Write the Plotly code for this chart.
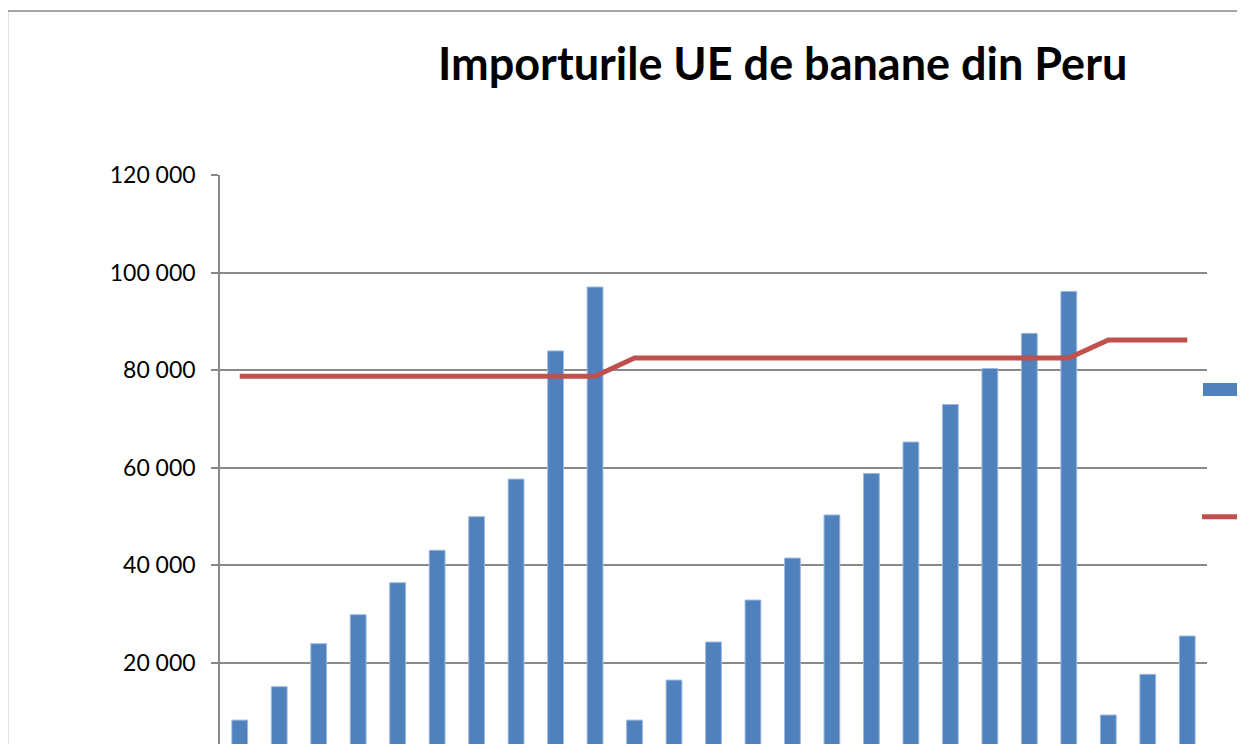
import plotly.graph_objects as go

# Data (x labels are cut off in the reference)
periods = [f"P{i}" for i in range(1, 26)]
imports = [8300, 15150, 23950, 29900, 36450, 43100, 49980, 57680, 83950, 97050,
           8300, 16500, 24300, 32900, 41500, 50330, 58850, 65280, 72980, 80350,
           87550, 96150, 9340, 17680, 25530]
quota = [78750] * 10 + [82500] * 12 + [86200] * 3

y_ticks = [20000, 40000, 60000, 80000, 100000, 120000]
y_tick_text = ["20 000", "40 000", "60 000", "80 000", "100 000", "120 000"]

OFF = 8  # default page body margin
W, H = 1245 - OFF, 744 - OFF
L, R, T = 220 - OFF, 1207 - OFF, 175 - OFF
PW, PH = R - L, H - T
Y_PER_PX = 20000 / 97.6
Y_MIN = 120000 - PH * Y_PER_PX


def px(x):
    return (x - OFF - L) / PW


def py(y):
    return (H - (y - OFF)) / PH


fig = go.Figure()
fig.add_trace(go.Bar(
    x=periods, y=imports, name="Importuri",
    marker=dict(color="#4F81BD", line=dict(color="#9DB9DE", width=1)),
    showlegend=False,
))
fig.add_trace(go.Scatter(
    x=periods, y=quota, name="Media", mode="lines",
    line=dict(color="#C0504D", width=5),
    showlegend=False,
))

shapes = [
    # outer chart-area border
    dict(type="rect", xref="paper", yref="paper",
         x0=px(7.5), x1=px(1262), y0=py(760), y1=py(11),
         line=dict(color="#898989", width=1.5), fillcolor="rgba(0,0,0,0)"),
    # legend symbols (text cut off in reference)
    dict(type="rect", xref="paper", yref="paper",
         x0=px(1203), x1=px(1260), y0=py(396), y1=py(383),
         line=dict(width=0), fillcolor="#4F81BD"),
    dict(type="line", xref="paper", yref="paper",
         x0=px(1202), x1=px(1260), y0=py(516.7), y1=py(516.7),
         line=dict(color="#C0504D", width=5)),
]

fig.update_layout(
    width=W, height=H,
    margin=dict(l=L, r=W - R, t=T, b=0),
    paper_bgcolor="white", plot_bgcolor="white",
    bargap=0.6,
    shapes=shapes,
    font=dict(family="Lato", color="black"),
    annotations=[dict(
        text="<b>Importurile UE de banane din Peru</b>",
        xref="paper", yref="paper", x=px(782), y=py(63),
        xanchor="center", yanchor="middle", showarrow=False,
        font=dict(family="Lato", size=45, color="black"),
    )],
)
fig.update_xaxes(
    range=[-0.5, 24.5], showticklabels=False, showgrid=False,
    showline=False, ticks="", zeroline=False,
)
fig.update_yaxes(
    range=[Y_MIN, 120000], tickvals=y_ticks, ticktext=y_tick_text,
    showgrid=True, gridcolor="#898989", gridwidth=1.5,
    showline=True, linecolor="#898989", linewidth=1.5,
    ticks="outside", ticklen=7, tickcolor="#898989", tickwidth=1.5,
    ticklabelstandoff=11,
    tickfont=dict(family="Lato", size=23, color="black"),
    zeroline=False,
)

fig.write_html("out.html")
